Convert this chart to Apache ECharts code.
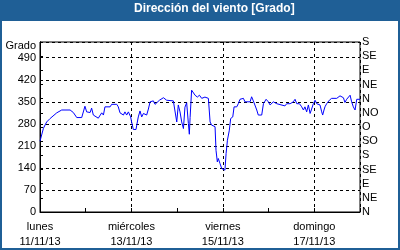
<!DOCTYPE html>
<html><head><meta charset="utf-8">
<script src="https://cdn.jsdelivr.net/npm/echarts@6/dist/echarts.min.js"></script>
<style>html,body{margin:0;padding:0;background:#fff}#c{width:400px;height:250px}</style>
</head><body><div id="c"></div>
<script>
// hours since lunes 11/11/13 00:00
const hours = [0,1.8,3.5,5.3,8.8,11.4,15.8,17.5,19.3,21.9,22.8,23.6,24.5,25.4,26.3,27.1,28,28.9,30.6,32.4,33.3,34.1,36.8,37.6,40.3,41.1,42,43.8,44.6,45.5,46.4,47.6,48.1,49,50.4,50.8,51.6,52.5,53.4,54.3,56,56.9,57.8,59.5,60.4,61.3,62.7,63.4,64.8,66.5,70,70.9,71.8,72.6,73.5,74.4,75.3,76.1,77,77.9,78.4,78.8,79.6,80.5,81.4,82.6,83.7,84.9,86.6,88.4,89.3,90.1,91,91.9,92.4,93.1,93.6,94.5,95.4,96.3,97.1,97.7,98.4,99.4,100.1,100.6,101.2,101.9,102.4,103.3,104.1,105,106.8,107.6,110.3,111.1,112,112.9,113.8,114.6,116.4,117.3,118.7,119.9,120.8,121.6,122.5,123.4,124.3,125.1,128.6,129.5,130.4,131.3,133,133.9,134.8,136.2,137.4,138.3,139.1,140,140.9,141.8,142.6,143.5,144.4,145.3,146.1,147,147.9,148.4,149.1,149.6,150.5,151.9,153.1,155.8,156.6,157.5,158.4,159.3,160.1,161,161.9,162.8,163.6,164.5,165.4,166.3,168];
const grados = [225,266,286,297,315,324,324,316,300,300,297,336,318,322,316,330,308,313,298,315,308,334,334,342,342,334,315,308,318,308,318,302,286,262,262,276,302,321,302,313,308,327,350,353,342,346,355,350,363,355,353,350,286,340,318,286,265,333,347,281,247,300,387,387,371,365,371,361,365,361,286,276,281,271,196,159,170,154,138,143,133,186,228,260,297,292,302,334,340,334,344,358,361,350,350,366,353,350,324,308,308,344,358,350,340,340,350,353,344,340,337,344,340,344,350,358,344,344,334,324,334,318,340,313,327,344,355,344,350,340,318,308,324,334,344,355,361,361,366,369,371,363,348,358,361,371,350,334,324,358,358];
const diasLabels = {0:'lunes\n11/11/13',48:'miércoles\n13/11/13',96:'viernes\n15/11/13',144:'domingo\n17/11/13'};
const leftTicks = [0,70,140,210,280,350,420,490];
const rumbos = ['N','NE','E','SE','S','SO','O','NO','N','NE','E','SE','S'];

const chart = echarts.init(document.getElementById('c'), null, {renderer:'canvas'});
const font = 'Liberation Sans';
chart.setOption({
  animation:false,
  backgroundColor:'#1f5f96',
  textStyle:{fontFamily:font},
  graphic:[
    {type:'rect', z:-10, shape:{x:2,y:21,width:396,height:227}, style:{fill:'#ffffff'}},
    {type:'text', left:134, top:3, style:{text:'Dirección del viento [Grado]', fill:'#ffffff', font:'bold 12px "Liberation Sans"'}}
  ],
  grid:{left:40, right:40, top:42, bottom:38, show:true, borderColor:'#000', borderWidth:1, backgroundColor:'transparent'},
  xAxis:[
    {type:'value', min:0, max:168, interval:24,
      axisLine:{lineStyle:{color:'#000',width:1}},
      axisTick:{show:true, inside:true, length:4, lineStyle:{color:'#000'}},
      splitLine:{show:false},
      axisLabel:{color:'#000', fontSize:11, lineHeight:15, margin:7, fontFamily:font,
        formatter:v => diasLabels[v] !== undefined ? diasLabels[v] : ''}
    },
    {type:'value', min:0, max:168, interval:48, position:'bottom',
      axisLine:{show:false}, axisTick:{show:false}, axisLabel:{show:false},
      splitLine:{show:true, lineStyle:{color:'#000', type:[3,3], width:1}}
    }
  ],
  yAxis:[
    {type:'value', min:0, max:540, interval:70, position:'left',
      name:'Grado', nameLocation:'end', nameGap:-4,
      nameTextStyle:{color:'#000', fontSize:11, align:'right', verticalAlign:'middle', padding:[0,4,0,0], fontFamily:font},
      axisLine:{show:true, lineStyle:{color:'#000'}},
      axisTick:{show:false},
      splitLine:{show:true, lineStyle:{color:'#000', type:[3,3], width:1}},
      axisLabel:{color:'#000', fontSize:11, margin:4, fontFamily:font,
        formatter:v => leftTicks.indexOf(v) >= 0 ? String(v) : ''}
    },
    {type:'value', min:0, max:540, interval:45, position:'right',
      axisLine:{show:true, lineStyle:{color:'#000'}},
      axisTick:{show:true, length:3, lineStyle:{color:'#000'}},
      splitLine:{show:false},
      axisLabel:{color:'#000', fontSize:11, margin:2, fontFamily:font,
        formatter:v => rumbos[Math.round(v/45)] || ''}
    }
  ],
  series:[{
    type:'line', xAxisIndex:0, yAxisIndex:0,
    data: hours.map((h,i) => [h, grados[i]]),
    showSymbol:false, symbol:'none',
    lineStyle:{color:'#0000ff', width:1}
  }]
});
</script></body></html>
